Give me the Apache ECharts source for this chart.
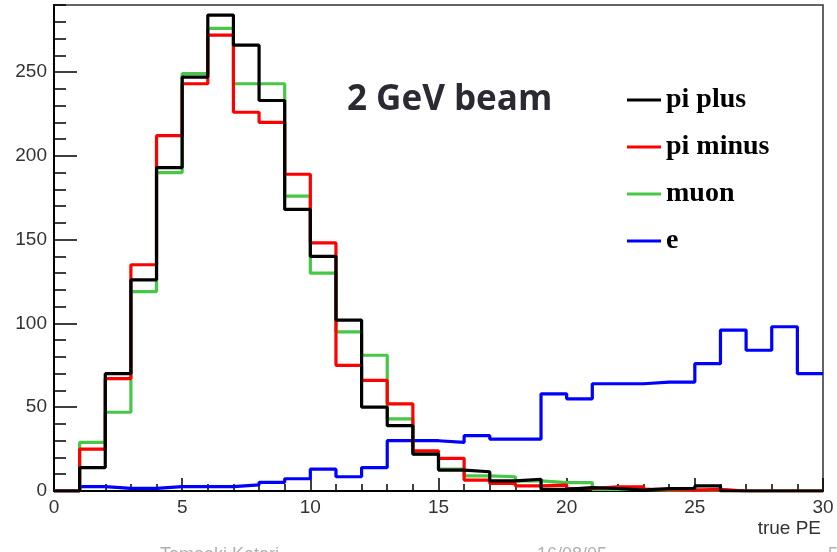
<!DOCTYPE html>
<html>
<head>
<meta charset="utf-8">
<script src="https://cdn.jsdelivr.net/npm/echarts@6/dist/echarts.min.js"></script>
<style>
html,body{margin:0;padding:0;background:#fff;}
#chart{width:837px;height:552px;}
</style>
</head>
<body>
<div id="chart"></div>
<script>
// Bin lower edges 0..29 (bin width 1, true PE)
const binEdges = [0,1,2,3,4,5,6,7,8,9,10,11,12,13,14,15,16,17,18,19,20,21,22,23,24,25,26,27,28,29,30];
const seriesNames = ['pi plus', 'pi minus', 'muon', 'e'];
const piPlus   = [0,14,70,126,193,247,284,266,233,168,140,102,50,39,22,12.5,11.5,6,7,1,2,1.5,0.5,1.5,1.5,3,0,0,0,0];
const piMinus  = [0,25,67,135,212,243,272,226,220,189,148,75,66,52,24,19.5,6.5,4.5,3,3.5,1.5,2.5,2.5,1,0.5,1,0,0,0,0];
const muon     = [0,29,47,119,190,249,276,243,243,176,130,95,81,43,22,13,9,8.5,6,5,5,1,1,0.5,0.5,0.5,0,0,0,0];
const electron = [0,2.6,1.6,1.6,2.6,2.6,2.6,3.6,5.2,7.3,13,8.5,14,30,30,29,33,31,31,58,55,64,64,65,65,76,96,84,98,70];
const xTicks = [0,5,10,15,20,25,30];
const yTicks = [0,50,100,150,200,250];

function histData(vals){
  const d = vals.map((v,i)=>[binEdges[i], v]);
  d.push([binEdges[vals.length], vals[vals.length-1]]);
  return d;
}

const chart = echarts.init(document.getElementById('chart'), null, {renderer:'canvas'});
const colors = {'pi plus':'#000000','pi minus':'#ff0000','muon':'#46c846','e':'#0000ff'};
const seriesData = {'pi plus':piPlus,'pi minus':piMinus,'muon':muon,'e':electron};
const drawOrder = ['e','muon','pi minus','pi plus'];

chart.setOption({
  animation:false,
  backgroundColor:'#ffffff',
  grid:{left:54,right:14,top:5,bottom:61,show:true,borderColor:'#333',borderWidth:1.5,backgroundColor:'transparent'},
  legend:{
    data:seriesNames,
    orient:'vertical',
    left:622, top:81,
    itemWidth:34, itemHeight:3, itemGap:19,
    icon:'rect',
    textStyle:{fontFamily:'Liberation Serif',fontWeight:'bold',fontSize:28,color:'#000'},
    selectedMode:false
  },
  xAxis:{
    type:'value', min:xTicks[0], max:xTicks[xTicks.length-1], interval:5,
    axisLine:{show:true,lineStyle:{color:'#000',width:2}},
    axisTick:{show:true,inside:true,length:13,lineStyle:{color:'#000',width:1.5}},
    minorTick:{show:true,splitNumber:5,length:7,lineStyle:{color:'#000',width:1.5}},
    axisLabel:{margin:7,fontFamily:'Liberation Sans',fontSize:19,color:'#333'},
    splitLine:{show:false}
  },
  yAxis:[{
    type:'value', min:0, max:290, interval:50,
    axisLine:{show:true,lineStyle:{color:'#000',width:2}},
    axisTick:{show:true,inside:true,length:23,lineStyle:{color:'#000',width:1.5}},
    axisLabel:{margin:7,fontFamily:'Liberation Sans',fontSize:19,color:'#333',showMaxLabel:false,
      formatter:(v)=> yTicks.indexOf(v)>=0 ? String(v) : ''},
    splitLine:{show:false}
  },{
    type:'value', min:0, max:290, interval:10, position:'left',
    axisLine:{show:false},
    axisTick:{show:true,inside:true,length:12,lineStyle:{color:'#000',width:1.5}},
    axisLabel:{show:false},
    splitLine:{show:false}
  }],
  series: drawOrder.map(name=>({
    name:name, type:'line', step:'end', symbol:'none', yAxisIndex:0,
    data:histData(seriesData[name]),
    lineStyle:{color:colors[name],width:3.2},
    itemStyle:{color:colors[name]},
    z:2
  })),
  graphic:[
    {type:'text',left:347,top:83,style:{text:'2 GeV beam',fontFamily:'Open Sans',fontWeight:'bold',fontSize:35,fill:'#2b2a33'}},
    {type:'text',right:16,top:519,style:{text:'true PE',fontFamily:'Liberation Sans',fontSize:19,fill:'#333'}},
    {type:'text',left:160,top:546,style:{text:'Tomoaki Katori',fontFamily:'Liberation Sans',fontSize:18,fill:'#b0b0b0'}},
    {type:'text',left:537,top:546,style:{text:'16/08/05',fontFamily:'Liberation Sans',fontSize:18,fill:'#b0b0b0'}},
    {type:'text',left:828,top:546,style:{text:'5',fontFamily:'Liberation Sans',fontSize:18,fill:'#b0b0b0'}}
  ]
});
</script>
</body>
</html>
